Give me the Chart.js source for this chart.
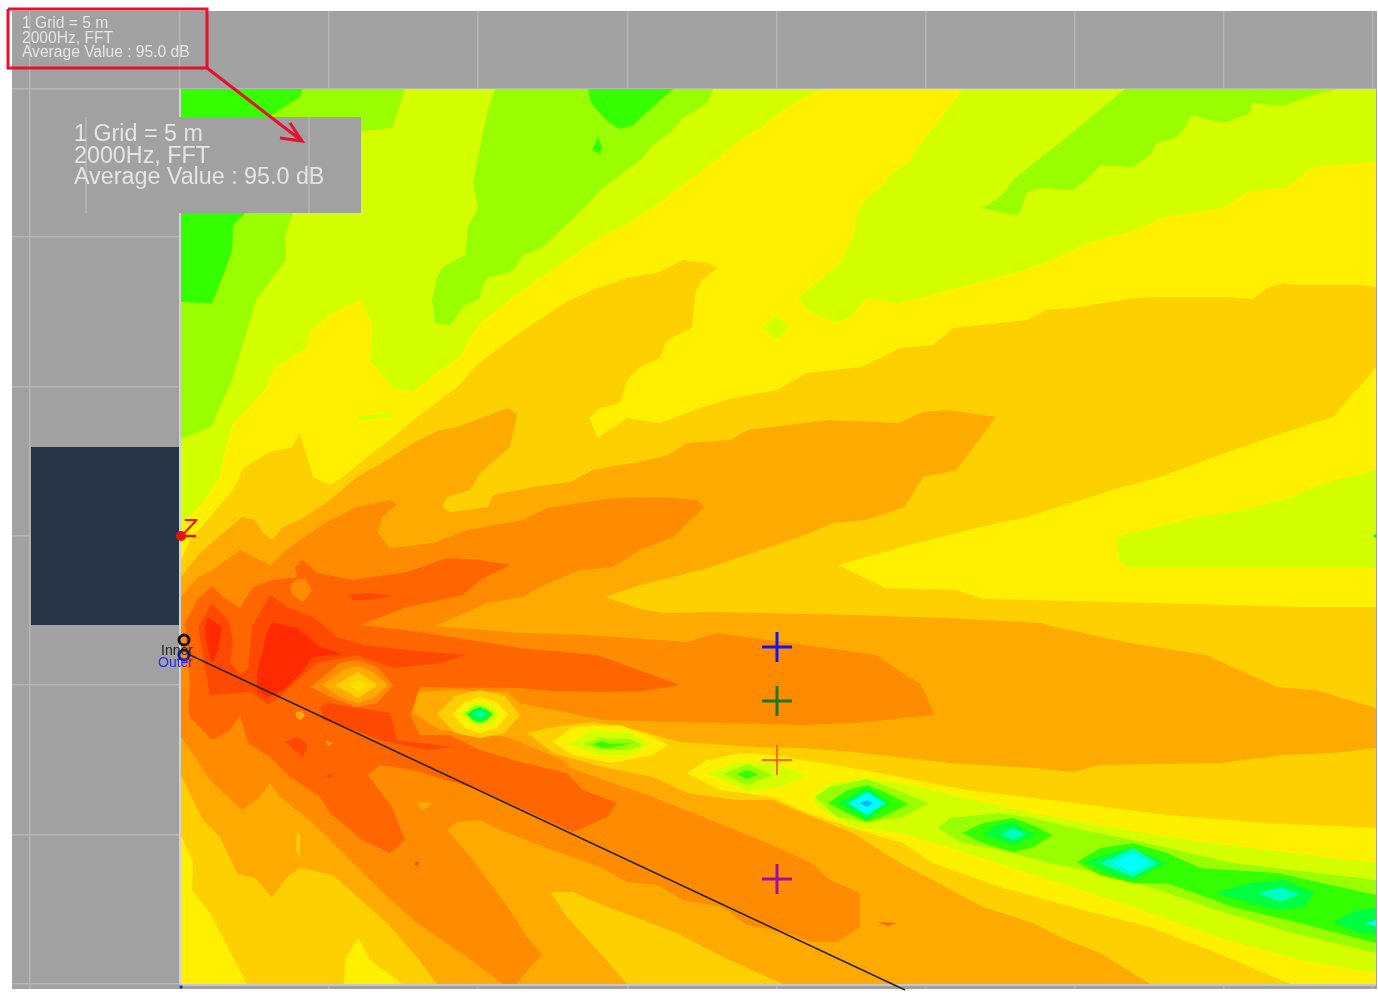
<!DOCTYPE html>
<html lang="en">
<head>
<meta charset="UTF-8" />
<title>Sound map 2000Hz</title>
<script src="https://cdn.jsdelivr.net/npm/chart.js"></script>
<style>
  html, body { margin: 0; background: #fff; }
  #wrap { position: relative; width: 1378px; height: 994px; overflow: hidden; }
  #map { position: absolute; left: 0; top: 0; filter: blur(0.6px); }
  .note { position: absolute; font-family: "Liberation Sans", Arial, sans-serif; color: #e4e4e4; white-space: pre; }
  #noteSmall { left: 22px; top: 16px; font-size: 15.6px; line-height: 14.5px; }
  #noteLarge { left: 74px; top: 123px; font-size: 23.3px; line-height: 21.5px; }
  .tag { position: absolute; font-family: "Liberation Sans", Arial, sans-serif; white-space: pre; }
</style>
</head>
<body>
<div id="wrap">
  <canvas id="map" width="1378" height="994"></canvas>
  <div class="note" id="noteSmall">1 Grid = 5 m
2000Hz, FFT
Average Value : 95.0 dB</div>
  <div class="note" id="noteLarge">1 Grid = 5 m
2000Hz, FFT
Average Value : 95.0 dB</div>
  <div class="tag" style="left:181px;top:513px;font-size:26px;font-style:italic;color:#f01010;">Z</div>
  <div class="tag" style="left:161px;top:642px;font-size:14px;color:#222;">Inner</div>
  <div class="tag" style="left:158px;top:654px;font-size:14px;color:#2a2aff;">Outer</div>
</div>

<script>
  // grid lines, 1 grid = 5 m
  const gridX = [30, 180, 329, 478, 628, 777, 926, 1075, 1224, 1373];
  const gridY = [89, 237, 387, 536, 685, 835, 984];

  // contour bands, [x, y] along each outline
  const fieldBase = [[181,89],[1376,89],[1376,984],[181,984]];
  const greenLeftTop = [[181,89],[405,89],[392,128],[361,131],[330,175],[293,213],[285,235],[286,260],[256,300],[243,343],[232,380],[215,417],[212,426],[181,439]];
  const greenMid = [[495,89],[713,89],[707,103],[693,112],[683,117],[673,130],[653,145],[640,160],[617,177],[600,190],[580,212],[553,237],[543,247],[523,255],[515,268],[508,273],[488,277],[482,287],[480,298],[463,307],[450,325],[435,323],[432,300],[437,277],[443,267],[465,255],[468,227],[478,208],[473,183],[480,147],[487,113]];
  const greenRight = [[1125,89],[1337,89],[1313,95],[1283,106],[1252,103],[1250,113],[1223,123],[1192,115],[1183,130],[1175,138],[1157,143],[1150,155],[1133,167],[1100,165],[1088,178],[1073,190],[1040,188],[1027,192],[1020,212],[1015,215],[982,208],[1000,197],[1015,178],[1057,145]];
  const deepGreenCorner = [[181,89],[302,89],[300,97],[268,117],[245,213],[233,225],[232,250],[225,270],[212,303],[181,302]];
  const deepGreenTop = [[588,89],[673,89],[657,103],[633,125],[620,129],[608,122],[595,108],[590,100]];
  const deepGreenDrop = [[598,137],[602,147],[600,154],[592,150]];

  const yellowMain = [[1376,162],[1313,167],[1287,187],[1247,192],[1223,208],[1163,217],[1137,230],[1087,243],[1047,262],[1013,273],[923,297],[897,303],[867,298],[850,317],[833,322],[807,310],[798,298],[823,277],[840,263],[853,237],[857,213],[867,198],[883,185],[893,172],[910,162],[917,148],[945,113],[963,89],[823,89],[803,98],[780,112],[760,128],[740,140],[700,172],[660,202],[630,223],[600,237],[567,260],[537,280],[513,297],[480,323],[470,337],[460,357],[440,370],[413,392],[393,388],[370,360],[373,325],[360,300],[333,313],[310,330],[307,347],[273,370],[267,387],[243,413],[233,423],[223,457],[220,477],[203,503],[183,522],[181,524],[181,984],[1376,984]];
  const limeDiamond = [[762,328],[777,316],[790,327],[777,339]];
  const limeBar = [[358,416],[392,413],[392,417],[360,420]];

  const goldMain = [[1376,287],[1360,285],[1297,285],[1283,283],[1267,288],[1253,299],[1227,297],[1160,297],[1133,298],[1080,307],[1047,310],[1027,320],[953,328],[933,345],[900,348],[880,358],[860,367],[807,373],[777,390],[733,398],[700,408],[660,423],[627,418],[598,438],[589,418],[600,408],[620,403],[627,380],[640,367],[660,358],[665,343],[673,337],[692,328],[695,293],[702,280],[717,268],[708,263],[683,260],[657,273],[627,278],[597,288],[570,300],[543,317],[527,328],[500,347],[477,365],[457,387],[420,415],[393,437],[367,457],[343,477],[330,485],[313,477],[300,433],[292,447],[270,452],[243,468],[238,480],[233,490],[213,513],[203,525],[190,540],[181,560],[181,984],[1376,984]];
  const yellowTongue = [[1376,367],[1363,383],[1353,393],[1333,417],[1313,423],[1253,443],[1159,477],[1112,490],[1027,517],[980,527],[909,545],[838,565],[885,588],[956,590],[984,599],[1159,603],[1300,607],[1376,607]];
  const limeTongue = [[1376,470],[1324,483],[1291,497],[1244,510],[1197,517],[1116,537],[1119,560],[1126,567],[1376,567]];
  const yellowCorner = [[181,837],[193,860],[192,890],[210,913],[247,984],[181,984]];
  const yellowSpike = [[358,937],[345,960],[344,984],[403,984],[370,960]];

  const amberMain = [[1376,708],[1315,690],[1277,687],[1206,655],[1130,643],[1055,627],[1041,623],[947,618],[852,615],[711,612],[664,613],[640,609],[605,597],[640,585],[701,570],[805,535],[833,523],[866,520],[904,507],[923,477],[956,470],[996,417],[947,410],[923,412],[899,423],[829,420],[748,430],[730,440],[687,443],[668,455],[640,462],[620,465],[593,470],[570,482],[533,487],[493,495],[488,507],[450,512],[442,507],[447,497],[470,490],[480,473],[510,447],[517,415],[508,408],[457,427],[440,430],[413,443],[387,460],[357,477],[330,500],[303,518],[283,527],[272,540],[263,533],[255,520],[242,517],[223,533],[200,553],[181,577],[181,775],[203,820],[220,837],[237,873],[255,878],[272,897],[287,877],[300,868],[333,875],[353,893],[387,923],[417,957],[437,984],[1376,984]];
  const goldBottom = [[550,892],[573,892],[607,907],[643,920],[677,933],[723,957],[783,984],[627,984],[600,953],[567,917]];
  const goldSliver = [[297,832],[300,835],[300,850],[299,857],[296,850]];

  const orangeMain = [[704,507],[697,500],[660,497],[613,498],[547,508],[523,520],[467,530],[433,543],[390,548],[378,533],[382,517],[397,505],[390,500],[357,507],[330,520],[310,533],[290,547],[270,565],[240,550],[213,570],[197,578],[181,597],[181,737],[197,760],[210,780],[242,810],[260,797],[270,783],[280,797],[313,823],[353,863],[380,890],[417,923],[467,957],[503,984],[517,984],[530,967],[542,955],[527,937],[510,910],[493,887],[473,860],[447,830],[457,822],[480,820],[500,830],[553,850],[600,867],[627,882],[657,885],[683,900],[723,907],[747,925],[787,933],[810,942],[837,942],[860,927],[860,893],[830,880],[810,862],[783,850],[753,837],[703,817],[653,797],[570,768],[563,760],[507,737],[440,730],[413,713],[417,692],[453,690],[507,692],[520,703],[553,710],[603,720],[803,725],[853,723],[935,715],[921,685],[876,655],[819,647],[717,633],[687,642],[587,635],[520,633],[435,626],[487,603],[523,597],[540,587],[580,570],[613,567],[640,550],[673,537]];
  const amberSpeck = [[417,802],[435,803],[422,810]];

  const darkOrangeMain = [[510,565],[480,560],[447,558],[407,572],[353,580],[317,573],[303,560],[295,567],[297,577],[272,580],[253,587],[240,608],[223,597],[212,586],[197,600],[185,623],[190,687],[188,707],[190,717],[212,740],[230,730],[240,715],[248,743],[270,757],[290,777],[320,797],[330,813],[362,840],[390,853],[405,840],[392,807],[368,775],[380,765],[413,770],[480,790],[553,823],[573,832],[607,817],[617,803],[583,790],[567,773],[520,762],[480,750],[450,735],[420,735],[410,715],[420,687],[520,688],[553,691],[637,692],[680,685],[597,655],[520,648],[420,632],[360,625],[407,607],[463,595],[480,580]];
  const orangeBlob = [[295,580],[305,578],[312,590],[303,602],[292,595],[290,585]];
  const amberDot = [[296,712],[302,711],[305,716],[300,720],[296,717]];
  const amberDot2 = [[326,741],[333,743],[328,746]];
  const darkDash = [[877,922],[897,923],[888,926]];

  const redOrangeMain = [[212,603],[228,620],[233,640],[230,663],[240,673],[248,670],[252,627],[270,595],[287,607],[313,617],[337,637],[363,645],[407,650],[465,655],[440,663],[393,668],[357,655],[317,663],[297,680],[280,697],[268,704],[250,692],[210,695],[205,667],[198,627]];
  const redOrangeFin = [[347,595],[370,593],[392,596],[370,600],[353,600]];
  const redOrangeTongue = [[320,707],[328,703],[390,713],[397,740],[453,747],[427,750],[380,740],[347,727],[323,720]];
  const redOrangeSpot = [[285,742],[297,737],[308,745],[303,757],[292,748]];
  const redSpeck = [[328,774],[332,775],[331,778],[327,777]];
  const redSpeck2 = [[415,862],[419,862],[418,866],[415,865]];
  const redCore = [[272,622],[297,628],[320,647],[342,654],[313,657],[297,677],[283,690],[268,697],[257,690],[257,673],[267,633]];
  const redLeft = [[208,617],[222,627],[218,650],[212,663],[207,647],[205,627]];

  // null 1, gold core
  const null1a = [[310,687],[340,663],[357,660],[377,667],[393,685],[377,703],[357,707],[337,700]];
  const null1b = [[322,685],[343,670],[358,666],[373,672],[388,685],[373,698],[358,703],[342,698]];
  const null1c = [[335,685],[358,672],[378,685],[358,698]];
  const null1d = [[348,685],[358,680],[368,685],[358,691]];
  // null 2, green core
  const null2a = [[437,714],[455,696],[480,690],[505,696],[520,715],[505,733],[480,738],[455,733]];
  const null2b = [[452,714],[465,702],[480,697],[497,702],[508,714],[497,728],[480,733],[465,728]];
  const null2c = [[460,714],[470,705],[480,702],[492,706],[500,714],[492,724],[480,728],[470,724]];
  const null2d = [[464,714],[473,707],[480,705],[488,708],[495,714],[488,721],[480,724],[472,721]];
  const null2e = [[467,714],[474,709],[480,707],[487,710],[492,714],[486,720],[480,722],[473,720]];
  const null2f = [[475,714],[480,710],[485,714],[480,718]];
  // the stripe of nulls running to the right edge
  const stripeGold = [[527,733],[553,727],[593,722],[637,730],[680,742],[760,747],[803,748],[853,752],[950,763],[1033,768],[1073,772],[1100,765],[1220,763],[1283,755],[1333,753],[1376,748],[1376,984],[1150,984],[1100,953],[1067,940],[1033,923],[983,907],[933,880],[900,863],[853,833],[803,813],[773,800],[737,800],[687,793],[653,777],[603,767],[553,753]];
  const null3a = [[552,742],[573,727],[620,725],[653,737],[668,745],[653,755],[610,763],[573,755]];
  const null3b = [[568,744],[593,730],[630,732],[650,745],[630,755],[597,755]];
  const null3c = [[583,744],[600,738],[630,739],[642,745],[627,750],[600,750]];
  const null3d = [[593,744],[602,741],[610,744],[633,743],[613,747],[602,748]];
  const stripeYellow = [[687,773],[707,760],[740,753],[773,755],[803,760],[853,768],[900,777],[967,790],[1067,802],[1167,815],[1267,823],[1376,828],[1376,984],[1290,984],[1217,953],[1150,927],[1083,910],[1000,887],[933,863],[903,843],[853,828],[807,813],[773,797],[720,790]];
  const null4a = [[708,773],[737,762],[773,763],[807,775],[780,787],[747,792]];
  const null4b = [[723,774],[747,764],[773,775],[747,785]];
  const null4c = [[737,774],[747,770],[758,774],[747,779]];
  const stripeLime = [[813,797],[830,783],[867,778],[900,783],[1033,813],[1167,837],[1267,850],[1376,863],[1376,973],[1300,960],[1217,937],[1133,907],[1050,880],[967,853],[900,833],[853,827],[817,807]];
  const null5a = [[815,797],[830,787],[867,779],[897,790],[928,803],[903,817],[867,822],[837,817]];
  const null5b = [[828,803],[847,790],[867,785],[887,793],[908,804],[887,815],[867,822],[847,813]];
  const null5c = [[838,803],[867,787],[890,803],[867,820]];
  const null5d = [[848,803],[867,792],[885,803],[867,815]];
  const null5e = [[860,803],[867,800],[873,803],[867,807]];
  const stripeLimeGreen = [[938,828],[950,818],[1000,813],[1033,818],[1083,830],[1133,840],[1233,863],[1376,880],[1376,953],[1293,933],[1217,910],[1150,887],[1100,873],[1050,863],[1000,850],[960,842]];
  const null6a = [[962,833],[983,823],[1013,818],[1037,827],[1052,835],[1033,847],[1013,852],[983,843]];
  const null6b = [[983,834],[997,825],[1013,822],[1035,835],[1013,845]];
  const null6c = [[1002,834],[1013,828],[1025,834],[1013,840]];
  const stripeGreen = [[1077,862],[1100,848],[1133,843],[1167,853],[1200,868],[1277,873],[1376,895],[1376,943],[1300,923],[1233,907],[1187,890],[1167,883],[1133,883],[1100,875]];
  const null7a = [[1085,862],[1113,852],[1133,848],[1167,863],[1133,880],[1113,875]];
  const null7b = [[1100,863],[1133,848],[1158,863],[1133,877]];
  const null7c = [[1112,863],[1133,853],[1150,863],[1133,872]];
  const null8a = [[1215,893],[1250,883],[1283,880],[1315,893],[1303,907],[1277,910],[1250,903]];
  const null8b = [[1258,893],[1280,887],[1300,894],[1280,902]];
  const null9a = [[1333,922],[1357,910],[1376,908],[1376,935],[1357,932]];
  const null9b = [[1365,923],[1376,920],[1376,926]];

  // block, callout and annotation lines
  const darkBlock = [[31,447],[180,447],[180,625],[31,625]];
  const calloutBox = [[67,117],[361,117],[361,213],[67,213]];
  const calloutLineA = [[86,117],[86,213]];
  const calloutLineB = [[309,117],[309,213]];
  const fieldEdgeTop = [[180,89],[180,117]];
  const fieldEdgeLeft = [[180,213],[180,984]];
  const fieldEdgeBottom = [[180,985],[1376,985]];
  const surveyLine = [[190,655],[905,990]];
  const redBox = [[8,9],[207,9],[207,68],[8,68],[8,9]];
  const redArrow = [[207,68],[302,141]];
  const redArrowHead = [[290,123],[302,141],[280,138]];
  const zDash = [[181,536],[196,536]];

  // markers
  const crossBlue = [[777,647]];
  const crossGreen = [[777,701]];
  const crossOrange = [[777,760]];
  const crossPurple = [[777,879]];
  const zPoint = [[181,536]];
  const innerPoint = [[184,640]];
  const outerPoint = [[184,655]];
  const edgeTickBlue = [[181,987]];
  const edgeTickGreen = [[1375,536]];

  const lime = '#d4ff00', limeGreen = '#99ff00', green = '#33ff00', brightGreen = '#00ff40';
  const yellow = '#fff000', gold = '#ffd000', amber = '#ffaa00', orange = '#ff8c00';
  const darkOrange = '#ff6600', redOrange = '#ff4800', red = '#ff2a00';
  const teal = '#00ffc0', cyan = '#00ffff', skyBlue = '#00b4ff', panelGrey = '#a1a1a1';

  // back to front
  const bands = [
    [fieldBase, lime], [greenLeftTop, limeGreen], [greenMid, limeGreen], [greenRight, limeGreen],
    [deepGreenCorner, green], [deepGreenTop, green], [deepGreenDrop, green],
    [yellowMain, yellow], [limeDiamond, lime], [limeBar, lime],
    [goldMain, gold], [yellowTongue, yellow], [limeTongue, lime], [yellowCorner, yellow], [yellowSpike, yellow],
    [amberMain, amber], [goldBottom, gold], [goldSliver, gold],
    [orangeMain, orange], [amberSpeck, amber],
    [darkOrangeMain, darkOrange], [orangeBlob, orange], [amberDot, amber], [amberDot2, amber], [darkDash, darkOrange],
    [redOrangeMain, redOrange], [redOrangeFin, redOrange], [redOrangeTongue, redOrange], [redOrangeSpot, redOrange],
    [redSpeck, redOrange], [redSpeck2, redOrange], [redCore, red], [redLeft, red],
    [null1a, orange], [null1b, amber], [null1c, gold], [null1d, '#ffe000'],
    [null2a, gold], [null2b, yellow], [null2c, lime], [null2d, limeGreen], [null2e, brightGreen], [null2f, teal],
    [stripeGold, gold], [null3a, yellow], [null3b, lime], [null3c, limeGreen], [null3d, green],
    [stripeYellow, yellow], [null4a, lime], [null4b, limeGreen], [null4c, green],
    [stripeLime, lime], [null5a, limeGreen], [null5b, green], [null5c, brightGreen], [null5d, cyan], [null5e, skyBlue],
    [stripeLimeGreen, limeGreen], [null6a, green], [null6b, brightGreen], [null6c, teal],
    [stripeGreen, green], [null7a, brightGreen], [null7b, teal], [null7c, cyan],
    [null8a, brightGreen], [null8b, teal], [null9a, brightGreen], [null9b, cyan],
    [darkBlock, '#283548'], [calloutBox, panelGrey]
  ];

  const lines = [
    [calloutLineA, '#b6b6b6', 1.5], [calloutLineB, '#b6b6b6', 1.5],
    [fieldEdgeTop, '#d2d2d2', 2], [fieldEdgeLeft, '#d2d2d2', 2], [fieldEdgeBottom, '#c8c8c8', 2],
    [surveyLine, '#2b2417', 1.6],
    [redBox, '#e5112d', 3], [redArrow, '#e5112d', 3], [redArrowHead, '#e5112d', 3],
    [zDash, '#f01010', 2.5]
  ];

  const crosses = [
    [crossBlue, '#1414f0', 3], [crossGreen, '#157a15', 3], [crossOrange, '#ff6a1a', 2], [crossPurple, '#a010a0', 3]
  ];

  const datasets = [];
  bands.forEach(([data, colour]) => datasets.push({
    data, showLine: true, fill: 'shape', backgroundColor: colour, borderWidth: 0, pointRadius: 0, tension: 0
  }));
  lines.forEach(([data, colour, width]) => datasets.push({
    data, showLine: true, fill: false, borderColor: colour, borderWidth: width, pointRadius: 0, clip: false
  }));
  crosses.forEach(([data, colour, width]) => datasets.push({
    data, showLine: false, pointStyle: 'cross', pointRadius: 15, pointBorderColor: colour, pointBorderWidth: width
  }));
  datasets.push({ data: zPoint, pointRadius: 5, pointBackgroundColor: '#e81010', pointBorderWidth: 0 });
  datasets.push({ data: innerPoint, pointRadius: 5, pointBackgroundColor: 'rgba(0,0,0,0)', pointBorderColor: '#111', pointBorderWidth: 3 });
  datasets.push({ data: outerPoint, pointRadius: 5, pointBackgroundColor: 'rgba(0,0,0,0)', pointBorderColor: '#1a1a90', pointBorderWidth: 3 });
  datasets.push({ data: edgeTickBlue, pointStyle: 'rect', pointRadius: 2, pointBackgroundColor: '#1414d0', pointBorderWidth: 0, clip: false });
  datasets.push({ data: edgeTickGreen, pointStyle: 'rect', pointRadius: 2, pointBackgroundColor: '#20e020', pointBorderWidth: 0, clip: false });
  // lower order is drawn on top
  datasets.forEach((d, i) => { d.order = datasets.length - i; });

  const panelBackground = {
    id: 'panelBackground',
    beforeDraw(chart) {
      const { ctx, chartArea: a } = chart;
      ctx.save();
      ctx.fillStyle = panelGrey;
      ctx.fillRect(a.left, a.top, a.right - a.left, a.bottom - a.top);
      ctx.restore();
    }
  };

  new Chart(document.getElementById('map'), {
    type: 'scatter',
    data: { datasets },
    plugins: [panelBackground],
    options: {
      responsive: false,
      animation: false,
      events: [],
      layout: { autoPadding: false, padding: { left: 12, top: 11, right: 1, bottom: 5 } },
      plugins: { legend: { display: false }, tooltip: { enabled: false } },
      scales: {
        x: {
          type: 'linear', min: 12, max: 1377,
          afterBuildTicks: (axis) => { axis.ticks = gridX.map((value) => ({ value })); },
          ticks: { display: false },
          border: { display: false },
          grid: { color: '#b6b6b6', lineWidth: 1.5, drawTicks: false }
        },
        y: {
          type: 'linear', min: 11, max: 989, reverse: true,
          afterBuildTicks: (axis) => { axis.ticks = gridY.map((value) => ({ value })); },
          ticks: { display: false },
          border: { display: false },
          grid: { color: '#b6b6b6', lineWidth: 1.5, drawTicks: false }
        }
      }
    }
  });
</script>
</body>
</html>
